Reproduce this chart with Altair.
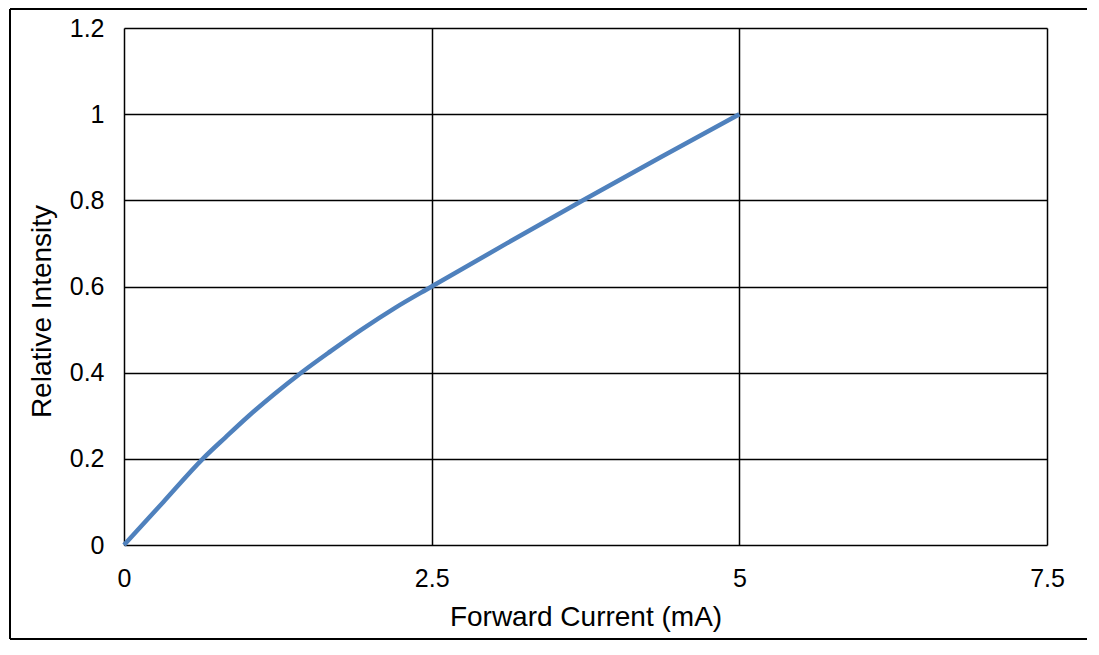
import altair as alt
import pandas as pd

current_ma = [0.0, 0.32, 0.64, 0.825, 1.015, 1.22, 1.44, 1.68, 1.93, 2.2, 2.5, 3.11, 3.73, 4.36, 5.0]
intensity = [0.0, 0.1, 0.2, 0.25, 0.3, 0.35, 0.4, 0.45, 0.5, 0.55, 0.6, 0.7, 0.8, 0.9, 1.0]
x_ticks = [0, 2.5, 5, 7.5]
y_ticks = [0, 0.2, 0.4, 0.6, 0.8, 1.0, 1.2]

df = pd.DataFrame({"current": current_ma, "intensity": intensity})

FONT = "Liberation Sans"

line = alt.Chart(df).mark_line(
    color="#4F81BD", strokeWidth=4.5, interpolate="monotone"
).encode(
    x=alt.X(
        "current:Q",
        scale=alt.Scale(domain=[0, 7.5], nice=False, zero=False),
        axis=alt.Axis(
            values=x_ticks,
            format=".1~f",
            title="Forward Current (mA)",
            grid=True,
            gridColor="black",
            gridWidth=1.5,
            domain=False,
            ticks=False,
            labelPadding=21,
            labelFontSize=25,
            labelFont=FONT,
            labelColor="black",
            labelFlush=False,
            titleFontSize=28,
            titleFont=FONT,
            titleFontWeight="normal",
            titleColor="black",
            titlePadding=12,
        ),
    ),
    y=alt.Y(
        "intensity:Q",
        scale=alt.Scale(domain=[0, 1.2], nice=False),
        axis=alt.Axis(
            values=y_ticks,
            format=".1~f",
            title="Relative Intensity",
            grid=True,
            gridColor="black",
            gridWidth=1.5,
            domain=False,
            ticks=False,
            labelPadding=20,
            labelFontSize=25,
            labelFont=FONT,
            labelColor="black",
            labelFlush=False,
            titleFontSize=28,
            titleFont=FONT,
            titleFontWeight="normal",
            titleColor="black",
            titleX=-82,
            titleY=283,
            titleAngle=-90,
            titleAlign="center",
            titleBaseline="middle",
        ),
    ),
)

# decorative outer frame (top, left, bottom edges)
frame_top = alt.Chart(df).mark_rule(stroke="black", strokeWidth=2).encode(
    x=alt.value(-114), x2=alt.value(975), y=alt.value(-19)
)
frame_left = alt.Chart(df).mark_rule(stroke="black", strokeWidth=2).encode(
    x=alt.value(-114), y=alt.value(-19), y2=alt.value(611)
)
frame_bottom = alt.Chart(df).mark_rule(stroke="black", strokeWidth=2).encode(
    x=alt.value(-114), x2=alt.value(975), y=alt.value(611)
)

chart = alt.layer(frame_top, frame_left, frame_bottom, line).properties(
    width=923,
    height=517,
    autosize=alt.AutoSizeParams(type="none"),
    padding={"left": 116, "top": 20, "right": 40, "bottom": 96},
).configure_view(
    stroke="black", strokeWidth=1.5
).configure(background="white")

chart.save("out.html", embed_options={"renderer": "svg", "actions": False})
